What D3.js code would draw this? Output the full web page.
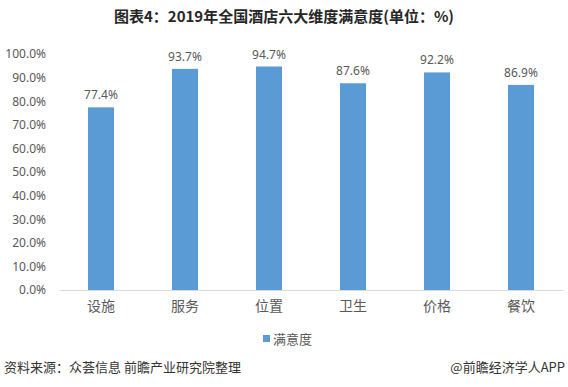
<!DOCTYPE html>
<html>
<head>
<meta charset="utf-8">
<script src="https://cdn.jsdelivr.net/npm/d3@7"></script>
<style>
body { margin: 0; background: #fff; }
text { font-family: "Noto Sans CJK SC", "Microsoft YaHei", sans-serif; }
</style>
</head>
<body>
<svg id="chart" width="568" height="387"></svg>
<script>
const categories = ['设施', '服务', '位置', '卫生', '价格', '餐饮']
const values = [77.4, 93.7, 94.7, 87.6, 92.2, 86.9]
const yTicks = [0, 10, 20, 30, 40, 50, 60, 70, 80, 90, 100]
const seriesName = '满意度'

const svg = d3.select('#chart')
const barColor = '#5B9BD5'
const textColor = '#595959'

const x = d3.scaleBand()
	.domain(categories)
	.range([59, 563])
	.paddingInner(0.69)
	.paddingOuter(0.345)

const y = d3.scaleLinear()
	.domain([0, 100])
	.range([290, 54])

// title
svg.append('text')
	.attr('x', 284)
	.attr('y', 22)
	.attr('text-anchor', 'middle')
	.style('font-size', '15px')
	.style('font-weight', 'bold')
	.style('fill', '#262626')
	.text('图表4：2019年全国酒店六大维度满意度(单位：%)')

// y axis labels
const yAxis = d3.axisLeft(y)
	.tickValues(yTicks)
	.tickSize(0)
	.tickPadding(0)
	.tickFormat(d => d.toFixed(1) + '%')

const yG = svg.append('g')
	.attr('transform', 'translate(46,0)')
	.call(yAxis)
yG.select('.domain').remove()
yG.selectAll('text')
	.style('font-size', '12px')
	.style('fill', textColor)
	.style('font-family', '"Noto Sans", sans-serif')

// bars
svg.selectAll('rect.bar')
	.data(values)
	.enter()
	.append('rect')
	.attr('class', 'bar')
	.attr('x', (d, i) => x(categories[i]))
	.attr('y', d => y(d))
	.attr('width', x.bandwidth())
	.attr('height', d => y(0) - y(d))
	.attr('fill', barColor)

// value labels
svg.selectAll('text.val')
	.data(values)
	.enter()
	.append('text')
	.attr('class', 'val')
	.attr('x', (d, i) => x(categories[i]) + x.bandwidth() / 2)
	.attr('y', d => y(d) - 8)
	.attr('text-anchor', 'middle')
	.style('font-size', '12px')
	.style('fill', textColor)
	.style('font-family', '"Noto Sans", sans-serif')
	.text(d => d.toFixed(1) + '%')

// x axis
const xAxis = d3.axisBottom(x).tickSize(0).tickPadding(11)
const xG = svg.append('g')
	.attr('transform', `translate(0,${y(0)})`)
	.call(xAxis)
xG.select('.domain').style('stroke', '#d9d9d9')
xG.selectAll('text')
	.style('font-size', '14px')
	.style('fill', textColor)

// legend
svg.append('rect')
	.attr('x', 263)
	.attr('y', 335)
	.attr('width', 7)
	.attr('height', 7)
	.attr('fill', barColor)
svg.append('text')
	.attr('x', 273)
	.attr('y', 344)
	.style('font-size', '13px')
	.style('fill', textColor)
	.text(seriesName)

// footer
svg.append('text')
	.attr('x', 4)
	.attr('y', 372)
	.style('font-size', '13px')
	.style('fill', '#333')
	.text('资料来源：众荟信息 前瞻产业研究院整理')
svg.append('text')
	.attr('x', 565)
	.attr('y', 372)
	.attr('text-anchor', 'end')
	.style('font-size', '13px')
	.style('fill', '#333')
	.text('@前瞻经济学人APP')
</script>
</body>
</html>
